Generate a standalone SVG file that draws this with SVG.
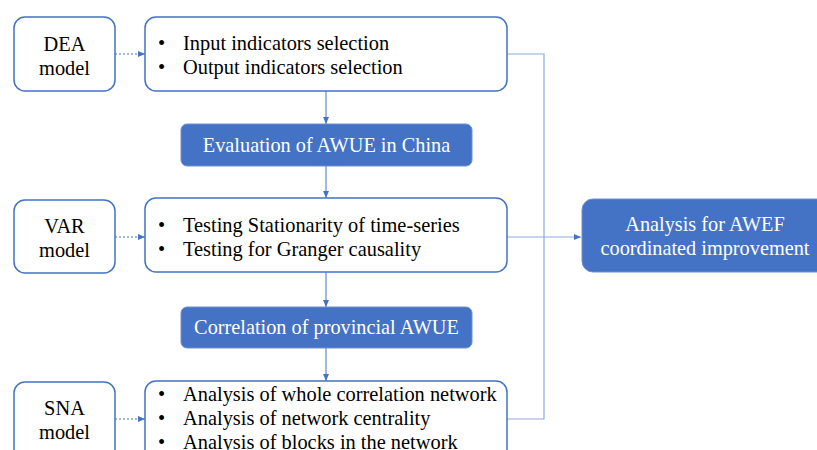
<svg xmlns="http://www.w3.org/2000/svg" width="817" height="450" viewBox="0 0 817 450">
<style>
.box{fill:#fff;stroke:#4472C4;stroke-width:1.5}
.fill{fill:#4472C4;stroke:#6F8FD0;stroke-width:1}
.t{font-family:"Liberation Serif","Times New Roman",serif;font-size:20.4px;fill:#000}
.w{font-family:"Liberation Serif","Times New Roman",serif;font-size:20.3px;fill:#fff;text-anchor:middle}
.c{text-anchor:middle}
.down{stroke:#4472C4;stroke-width:1;fill:none;marker-end:url(#ah)}
.dot{stroke:#4472C4;stroke-width:1;stroke-dasharray:2 2;fill:none;marker-end:url(#ah)}
.lt{stroke:#8FAADC;stroke-width:1.2;fill:none}
</style>
<defs>
<marker id="ah" markerWidth="8" markerHeight="8" refX="7" refY="4" orient="auto" markerUnits="userSpaceOnUse">
<path d="M0,1 L7,4 L0,7 Z" fill="#4472C4"/>
</marker>
</defs>
<g id="connectors">
<path class="dot" d="M115,54 H145"/>
<path class="dot" d="M115,237 H145"/>
<path class="dot" d="M115,419 H145"/>
<path class="down" d="M326,91 V124"/>
<path class="down" d="M326,166 V198"/>
<path class="down" d="M326,272 V307"/>
<path class="down" d="M326,348 V381"/>
<path class="lt" d="M507,54 H544 V419 H507"/>
<path class="lt" d="M507,237 H544"/>
<path class="lt" d="M544,237 H581" style="marker-end:url(#ah)"/>
</g>
<g id="dea">
<rect class="box" x="14" y="17" width="101" height="74" rx="11"/>
<text class="t c" x="64.5" y="51">DEA</text>
<text class="t c" x="64.5" y="75">model</text>
</g>
<g id="box1">
<rect class="box" x="145" y="17" width="362" height="74" rx="11"/>
<text class="t" x="158" y="50">•</text><text class="t" x="183" y="50">Input indicators selection</text>
<text class="t" x="158" y="74">•</text><text class="t" x="183" y="74">Output indicators selection</text>
</g>
<g id="eval">
<rect class="fill" x="181" y="124" width="291" height="42" rx="6"/>
<text class="w" x="326.5" y="152">Evaluation of AWUE in China</text>
</g>
<g id="var">
<rect class="box" x="14" y="200" width="101" height="73" rx="11"/>
<text class="t c" x="64.5" y="233">VAR</text>
<text class="t c" x="64.5" y="257">model</text>
</g>
<g id="box2">
<rect class="box" x="145" y="198" width="362" height="74" rx="11"/>
<text class="t" x="158" y="232">•</text><text class="t" x="183" y="232">Testing Stationarity of time-series</text>
<text class="t" x="158" y="256">•</text><text class="t" x="183" y="256">Testing for Granger causality</text>
</g>
<g id="corr">
<rect class="fill" x="181" y="307" width="291" height="41" rx="6"/>
<text class="w" x="326.5" y="334">Correlation of provincial AWUE</text>
</g>
<g id="sna">
<rect class="box" x="14" y="382" width="101" height="80" rx="11"/>
<text class="t c" x="64.5" y="415">SNA</text>
<text class="t c" x="64.5" y="439">model</text>
</g>
<g id="box3">
<rect class="box" x="145" y="381" width="362" height="80" rx="11"/>
<text class="t" x="158" y="401">•</text><text class="t" x="183" y="401">Analysis of whole correlation network</text>
<text class="t" x="158" y="425">•</text><text class="t" x="183" y="425">Analysis of network centrality</text>
<text class="t" x="158" y="449">•</text><text class="t" x="183" y="449">Analysis of blocks in the network</text>
</g>
<g id="awef">
<rect class="fill" x="582" y="199" width="246" height="73" rx="11"/>
<text class="w" x="705" y="231">Analysis for AWEF</text>
<text class="w" x="705" y="255">coordinated improvement</text>
</g>
</svg>
